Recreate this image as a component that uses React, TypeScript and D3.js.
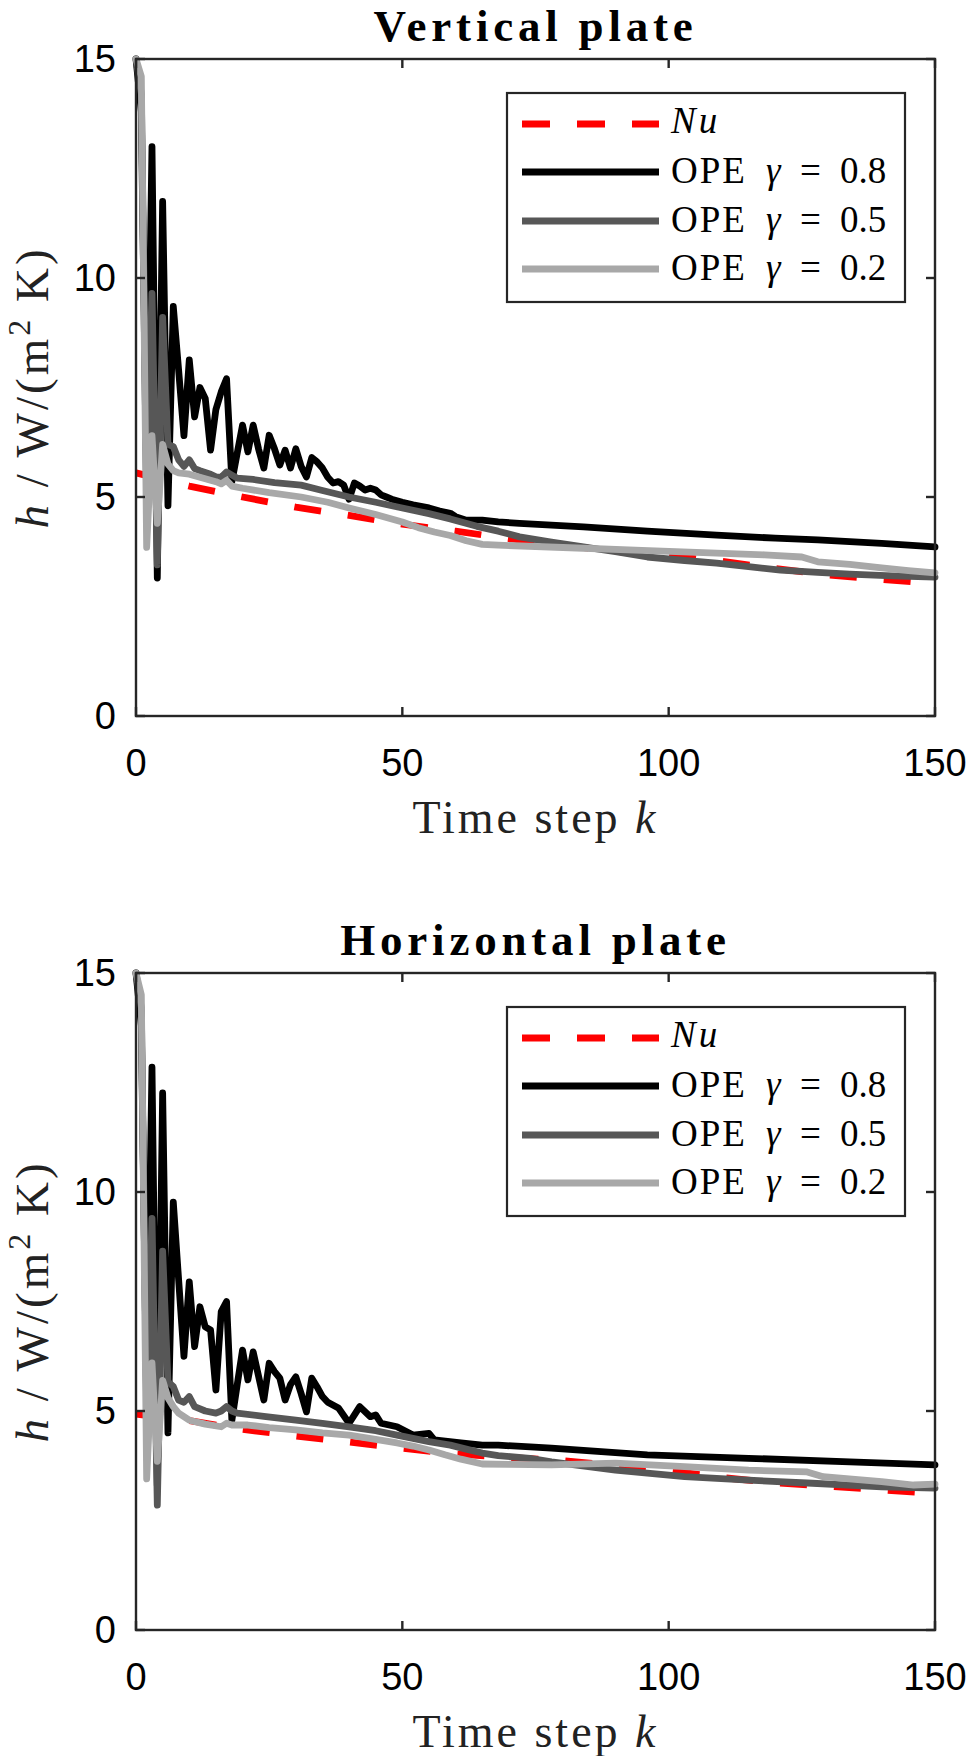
import React, { useEffect, useRef } from 'react';
import * as d3 from 'd3';

type Pt = [number, number]; // [time step k, h in W/(m^2 K)]

const X_TICKS = [0, 50, 100, 150];
const Y_TICKS = [0, 5, 10, 15];
const GAMMAS = ['0.8', '0.5', '0.2'];
const TITLES = ['Vertical plate', 'Horizontal plate'];

// --- Vertical plate ---
const vertNu: Pt[] = [
  [0, 5.55], [10, 5.25], [20, 5.0], [30, 4.77], [40, 4.58], [50, 4.38], [60, 4.22], [70, 4.05],
  [80, 3.9], [90, 3.76], [100, 3.66], [110, 3.53], [120, 3.37], [130, 3.22], [140, 3.12], [150, 3.02],
];
const vertOpe08: Pt[] = [
  [0, 15], [1, 13.8], [2, 5.0], [3, 13.0], [4, 3.15], [5, 11.75], [6, 4.8], [7, 9.35], [8, 7.9], [9, 6.4],
  [10, 8.13], [11, 6.83], [12, 7.5], [13, 7.25], [14, 6.07], [15, 7.0], [16, 7.4], [17, 7.7], [18, 5.35],
  [19, 6.0], [20, 6.64], [21, 6.03], [22, 6.64], [23, 6.1], [24, 5.66], [25, 6.41], [26, 6.1], [27, 5.73],
  [28, 6.07], [29, 5.66], [30, 6.1], [31, 5.7], [32, 5.46], [33, 5.9], [34, 5.8], [35, 5.66], [36, 5.45],
  [37, 5.32], [38, 5.35], [39, 5.27], [40, 4.95], [41, 5.32], [42, 5.25], [43, 5.16], [44, 5.2], [45, 5.16],
  [46, 5.05], [47, 5.0], [48, 4.95], [50, 4.88], [52, 4.82], [55, 4.75], [57, 4.68], [59, 4.63], [60, 4.55],
  [62, 4.47], [65, 4.47], [68, 4.43], [72, 4.4], [84, 4.32], [96, 4.22], [109, 4.13], [120, 4.06],
  [128, 4.02], [140, 3.94], [150, 3.86],
];
const vertOpe05: Pt[] = [
  [0, 15], [1, 14.2], [2, 5.5], [3, 9.65], [4, 3.45], [5, 9.1], [6, 6.2], [7, 6.15], [8, 5.85], [9, 5.7],
  [10, 5.85], [11, 5.65], [12, 5.6], [14, 5.52], [15, 5.46], [16, 5.45], [17, 5.57], [18, 5.5], [19, 5.43],
  [22, 5.4], [26, 5.33], [31, 5.27], [35, 5.15], [40, 5.0], [45, 4.88], [50, 4.75], [55, 4.62], [59, 4.5],
  [64, 4.33], [68, 4.22], [72, 4.09], [78, 3.97], [84, 3.86], [90, 3.75], [96, 3.63], [103, 3.55],
  [109, 3.49], [115, 3.41], [121, 3.33], [128, 3.28], [134, 3.24], [142, 3.2], [150, 3.17],
];
const vertOpe02: Pt[] = [
  [0, 15], [1, 14.6], [2, 3.85], [3, 6.4], [4, 4.4], [5, 6.2], [6, 5.75], [7, 5.6], [8, 5.55], [10, 5.52],
  [12, 5.45], [15, 5.35], [16, 5.3], [17, 5.38], [18, 5.25], [20, 5.2], [25, 5.1], [31, 5.0], [36, 4.88],
  [40, 4.75], [45, 4.6], [50, 4.43], [53, 4.3], [56, 4.2], [59, 4.12], [62, 4.0], [65, 3.92], [68, 3.9],
  [75, 3.87], [84, 3.83], [95, 3.78], [109, 3.72], [118, 3.68], [125, 3.63], [128, 3.52], [134, 3.46],
  [140, 3.38], [145, 3.32], [150, 3.27],
];

// --- Horizontal plate ---
const horzNu: Pt[] = [
  [0, 4.93], [10, 4.78], [20, 4.58], [30, 4.43], [40, 4.29], [50, 4.15], [60, 4.02], [70, 3.94],
  [80, 3.87], [90, 3.75], [100, 3.64], [110, 3.48], [120, 3.36], [130, 3.28], [140, 3.2], [150, 3.12],
];
const horzOpe08: Pt[] = [
  [0, 15], [1, 13.8], [2, 5.2], [3, 12.85], [4, 3.3], [5, 12.26], [6, 4.5], [7, 9.77], [8, 8.0], [9, 6.25],
  [10, 7.95], [11, 6.47], [12, 7.38], [13, 6.92], [14, 6.85], [15, 5.48], [16, 7.27], [17, 7.5], [18, 4.79],
  [19, 5.6], [20, 6.39], [21, 5.71], [22, 6.35], [23, 5.8], [24, 5.25], [25, 6.09], [26, 5.9], [27, 5.75],
  [28, 5.25], [29, 5.6], [30, 5.78], [31, 5.4], [32, 4.98], [33, 5.75], [34, 5.55], [35, 5.33], [36, 5.2],
  [38, 5.07], [40, 4.72], [42, 5.1], [44, 4.87], [45, 4.91], [46, 4.72], [49, 4.64], [52, 4.45],
  [55, 4.49], [56, 4.34], [61, 4.27], [65, 4.22], [68, 4.22], [74, 4.18], [78, 4.15], [96, 4.0],
  [115, 3.92], [134, 3.84], [150, 3.77],
];
const horzOpe05: Pt[] = [
  [0, 15], [1, 14.2], [2, 5.0], [3, 9.4], [4, 2.85], [5, 8.65], [6, 5.67], [7, 5.56], [8, 5.25], [9, 5.2],
  [10, 5.33], [11, 5.1], [13, 5.0], [15, 4.95], [16, 5.0], [17, 5.1], [18, 5.0], [19, 4.95], [24, 4.88],
  [30, 4.79], [35, 4.72], [40, 4.64], [45, 4.55], [49, 4.45], [55, 4.3], [59, 4.22], [62, 4.13], [65, 4.04],
  [68, 3.98], [74, 3.92], [78, 3.84], [90, 3.65], [103, 3.5], [115, 3.42], [127, 3.35], [140, 3.27],
  [150, 3.24],
];
const horzOpe02: Pt[] = [
  [0, 15], [1, 14.5], [2, 3.45], [3, 6.1], [4, 3.85], [5, 5.7], [6, 5.3], [7, 5.1], [8, 4.95], [10, 4.79],
  [13, 4.7], [16, 4.64], [17, 4.72], [18, 4.68], [21, 4.68], [25, 4.62], [30, 4.57], [35, 4.5], [40, 4.45],
  [45, 4.35], [49, 4.27], [52, 4.2], [55, 4.11], [58, 4.0], [61, 3.9], [65, 3.79], [70, 3.78], [78, 3.77],
  [90, 3.81], [103, 3.73], [115, 3.65], [126, 3.61], [129, 3.5], [135, 3.44], [140, 3.39], [146, 3.31],
  [150, 3.33],
];

const PANELS = [
  { title: TITLES[0], series: [vertNu, vertOpe08, vertOpe05, vertOpe02] },
  { title: TITLES[1], series: [horzNu, horzOpe08, horzOpe05, horzOpe02] },
];

// styles: Nu (red dashed), then gamma 0.8 / 0.5 / 0.2
const LINE_COLORS = ['#ff0000', '#000000', '#575757', '#a8a8a8'];
const AXIS_COLOR = '#262626';
const SANS = '"Liberation Sans", Arial, sans-serif';
const SERIF = '"Liberation Serif", "Times New Roman", serif';

const W = 969;
const H = 1756;
const PLOT_LEFT = 136;
const PLOT_RIGHT = 935;
const PLOT_H = 657;
const PANEL_STEP = 914;
const FIRST_TOP = 59;

const App: React.FC = () => {
  const svgRef = useRef<SVGSVGElement>(null);

  useEffect(() => {
    if (!svgRef.current) return;
    const svg = d3.select(svgRef.current);
    svg.selectAll('*').remove();

    const x = d3.scaleLinear().domain([0, 150]).range([PLOT_LEFT, PLOT_RIGHT]);

    PANELS.forEach((panel, pi) => {
      const top = FIRST_TOP + pi * PANEL_STEP;
      const bottom = top + PLOT_H;
      const y = d3.scaleLinear().domain([0, 15]).range([bottom, top]);
      const g = svg.append('g');

      // --- TITLE ---
      g.append('text')
        .attr('x', (PLOT_LEFT + PLOT_RIGHT) / 2)
        .attr('y', top - 18)
        .attr('text-anchor', 'middle')
        .attr('font-family', SERIF)
        .attr('font-weight', 'bold')
        .attr('font-size', 45)
        .attr('letter-spacing', 4.8)
        .attr('fill', '#000')
        .text(panel.title);

      // --- LINES ---
      const line = d3.line<Pt>().x(d => x(d[0])).y(d => y(d[1]));
      panel.series.forEach((data, si) => {
        g.append('path')
          .datum(data)
          .attr('d', line)
          .attr('fill', 'none')
          .attr('stroke', LINE_COLORS[si])
          .attr('stroke-width', 6.8)
          .attr('stroke-linejoin', 'round')
          .attr('stroke-linecap', si === 0 ? 'butt' : 'round')
          .attr('stroke-dasharray', si === 0 ? '27 27' : null);
      });

      // --- AXES BOX & TICKS ---
      g.append('rect')
        .attr('x', PLOT_LEFT).attr('y', top)
        .attr('width', PLOT_RIGHT - PLOT_LEFT).attr('height', PLOT_H)
        .attr('fill', 'none').attr('stroke', AXIS_COLOR).attr('stroke-width', 2.4);

      const tickLen = 9;
      X_TICKS.forEach(t => {
        g.append('line').attr('x1', x(t)).attr('x2', x(t)).attr('y1', bottom).attr('y2', bottom - tickLen)
          .attr('stroke', AXIS_COLOR).attr('stroke-width', 2.4);
        g.append('line').attr('x1', x(t)).attr('x2', x(t)).attr('y1', top).attr('y2', top + tickLen)
          .attr('stroke', AXIS_COLOR).attr('stroke-width', 2.4);
        g.append('text')
          .attr('x', x(t)).attr('y', bottom + 60)
          .attr('text-anchor', 'middle')
          .attr('font-family', SANS).attr('font-size', 38).attr('fill', '#000')
          .text(t);
      });
      Y_TICKS.forEach(t => {
        g.append('line').attr('x1', PLOT_LEFT).attr('x2', PLOT_LEFT + tickLen).attr('y1', y(t)).attr('y2', y(t))
          .attr('stroke', AXIS_COLOR).attr('stroke-width', 2.4);
        g.append('line').attr('x1', PLOT_RIGHT).attr('x2', PLOT_RIGHT - tickLen).attr('y1', y(t)).attr('y2', y(t))
          .attr('stroke', AXIS_COLOR).attr('stroke-width', 2.4);
        g.append('text')
          .attr('x', PLOT_LEFT - 20).attr('y', y(t) + 13)
          .attr('text-anchor', 'end')
          .attr('font-family', SANS).attr('font-size', 38).attr('fill', '#000')
          .text(t);
      });

      // --- AXIS LABELS ---
      const xl = g.append('text')
        .attr('x', (PLOT_LEFT + PLOT_RIGHT) / 2).attr('y', bottom + 117)
        .attr('text-anchor', 'middle')
        .attr('font-family', SERIF).attr('font-size', 46).attr('letter-spacing', 3).attr('fill', '#222');
      xl.append('tspan').text('Time step ');
      xl.append('tspan').attr('font-style', 'italic').text('k');

      const yl = g.append('text')
        .attr('transform', `translate(48,${(top + bottom) / 2}) rotate(-90)`)
        .attr('text-anchor', 'middle')
        .attr('font-family', SERIF).attr('font-size', 47).attr('letter-spacing', 3).attr('fill', '#222');
      yl.append('tspan').attr('font-style', 'italic').text('h');
      yl.append('tspan').text(' / W/(m');
      yl.append('tspan').attr('font-size', 32).attr('dy', -18).text('2');
      yl.append('tspan').attr('dy', 18).text(' K)');

      // --- LEGEND ---
      const lx = 507, ly = top + 34, lw = 398, lh = 209;
      const leg = g.append('g');
      leg.append('rect')
        .attr('x', lx).attr('y', ly).attr('width', lw).attr('height', lh)
        .attr('fill', '#fff').attr('stroke', AXIS_COLOR).attr('stroke-width', 2.2);

      const rowLine = [31, 79, 128, 176];
      const rowBase = [40, 90, 139, 187];
      LINE_COLORS.forEach((c, i) => {
        leg.append('line')
          .attr('x1', 522).attr('x2', 659)
          .attr('y1', ly + rowLine[i]).attr('y2', ly + rowLine[i])
          .attr('stroke', c).attr('stroke-width', 7)
          .attr('stroke-dasharray', i === 0 ? '28 27' : null);

        const t = leg.append('text')
          .attr('y', ly + rowBase[i])
          .attr('font-family', SERIF).attr('font-size', 37).attr('fill', '#000');
        if (i === 0) {
          t.append('tspan').attr('x', 671).attr('font-style', 'italic').attr('letter-spacing', 3).text('Nu');
        } else {
          t.append('tspan').attr('x', 671).attr('letter-spacing', 2).text('OPE');
          t.append('tspan').attr('x', 766).attr('font-style', 'italic').text('γ');
          t.append('tspan').attr('x', 800).text('=');
          t.append('tspan').attr('x', 840).text(GAMMAS[i - 1]);
        }
      });
    });
  }, []);

  return (
    <svg
      ref={svgRef}
      width={W}
      height={H}
      style={{ position: 'absolute', left: 0, top: 0, background: '#fff', display: 'block' }}
    />
  );
};

export default App;
